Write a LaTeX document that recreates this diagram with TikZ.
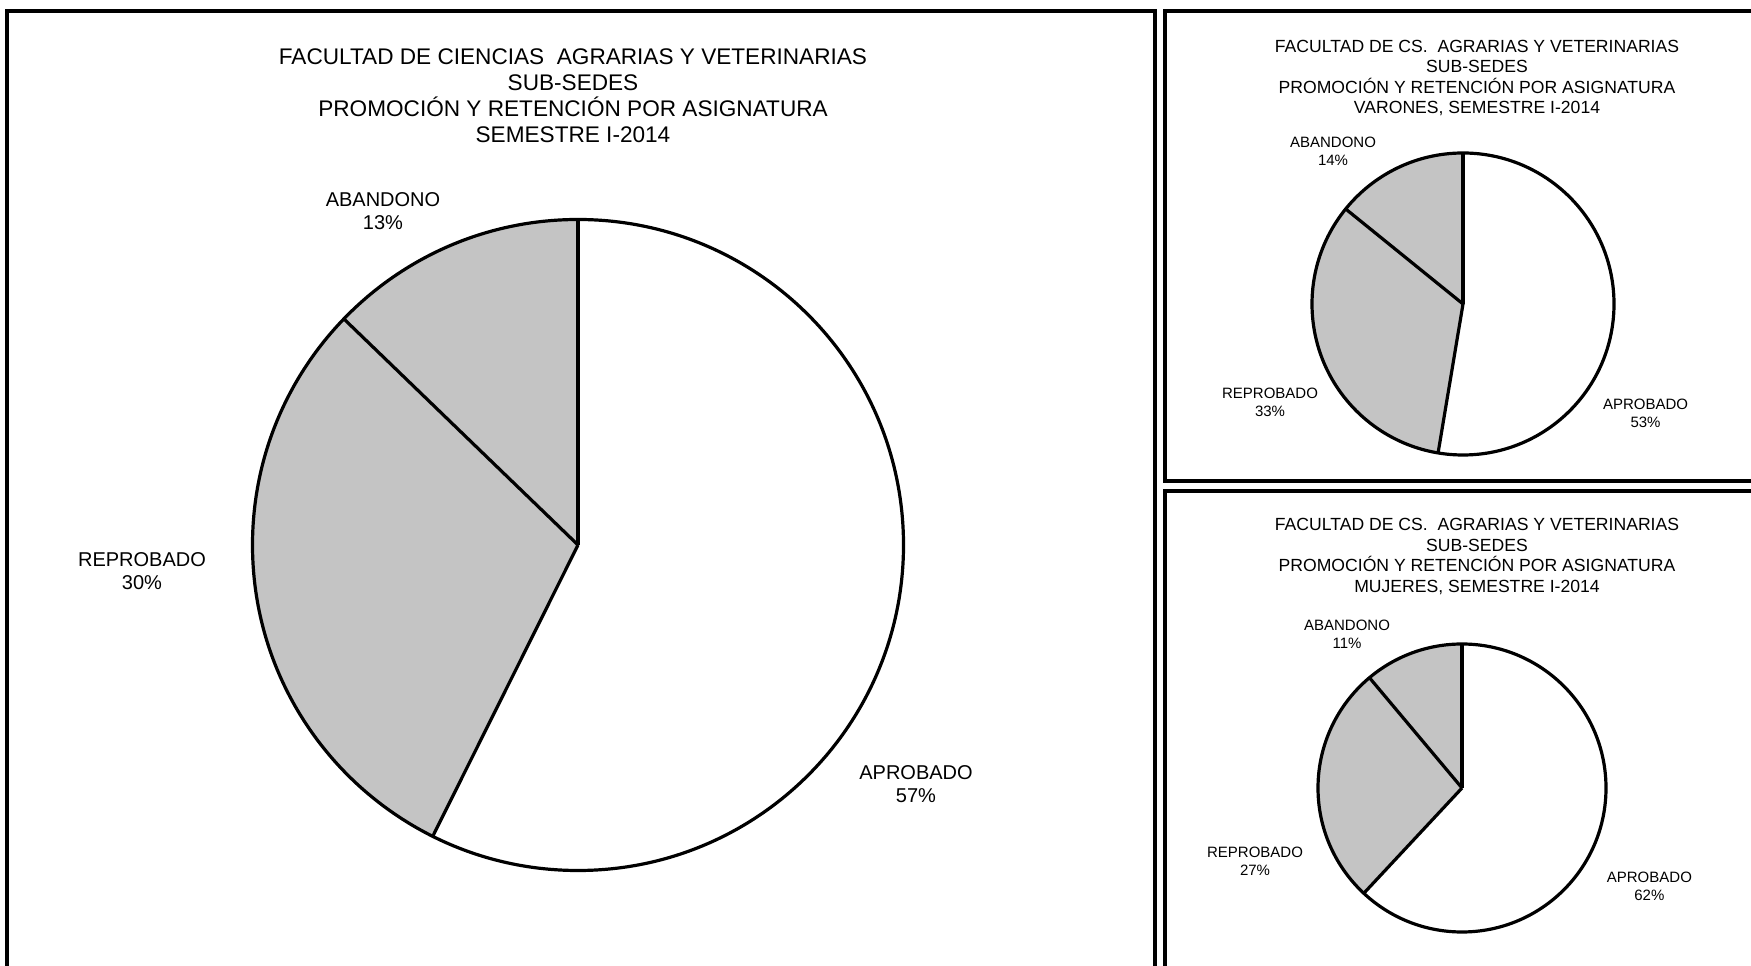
\documentclass[tikz,border=0pt]{standalone}
\usepackage{fontspec}
\setmainfont{Liberation Sans}
\definecolor{slicegray}{RGB}{196,196,196}
\newcommand{\drawpie}[6]{%
  \coordinate (#1) at (#2,#3);
  \fill[white] (#1) circle[radius=#4];
  \fill[slicegray] (#1) -- +(#5:#4) arc[start angle=#5, end angle=-270, radius=#4] -- cycle;
  \draw[pieline] (#1) circle[radius=#4];
  \draw[pieline] (#1) -- +(90:#4);
  \draw[pieline] (#1) -- +(#5:#4);
  \draw[pieline] (#1) -- +(#6:#4);
}
\begin{document}
\begin{tikzpicture}[x=1pt,y=1pt,
  frame/.style={line width=3.3pt},
  pieline/.style={line width=3.2pt, line join=round},
  bigtitle/.style={align=center, inner sep=0pt, font=\fontsize{22.6}{26}\selectfont},
  biglabel/.style={align=center, inner sep=0pt, font=\fontsize{20}{23}\selectfont},
  smalltitle/.style={align=center, inner sep=0pt, font=\fontsize{17.6}{20.5}\selectfont},
  smalllabel/.style={align=center, inner sep=0pt, font=\fontsize{15}{18}\selectfont}]
\useasboundingbox (0,0) rectangle (1751,966);
\clip (0,0) rectangle (1751,966);
\fill[white] (0,0) rectangle (1751,966);
% frames
\draw[frame] (7,-10) -- (7,955) -- (1155,955) -- (1155,-10);
\draw[frame] (1165,485) rectangle (1765,955);
\draw[frame] (1165,-10) rectangle (1765,475);
% main chart
\drawpie{mainc}{578}{421}{325.5}{-116.5}{136}
\node[bigtitle] (maint) at (573,870) {FACULTAD DE CIENCIAS\ \ AGRARIAS Y VETERINARIAS\\SUB-SEDES\\PROMOCIÓN Y RETENCIÓN POR ASIGNATURA\\SEMESTRE I-2014};
\node[biglabel] (mainab) at (383,755) {ABANDONO\\13\%};
\node[biglabel] (mainre) at (142,394.5) {REPROBADO\\30\%};
\node[biglabel] (mainap) at (916,181.5) {APROBADO\\57\%};
% varones
\drawpie{varc}{1463}{662}{151}{-99.5}{141}
\node[smalltitle] (vart) at (1477,888) {FACULTAD DE CS.\ \ AGRARIAS Y VETERINARIAS\\SUB-SEDES\\PROMOCIÓN Y RETENCIÓN POR ASIGNATURA\\VARONES, SEMESTRE I-2014};
\node[smalllabel] (varab) at (1333,815) {ABANDONO\\14\%};
\node[smalllabel] (varre) at (1270,563.7) {REPROBADO\\33\%};
\node[smalllabel] (varap) at (1645.5,553) {APROBADO\\53\%};
% mujeres
\drawpie{mujc}{1462}{178}{144}{-133}{130}
\node[smalltitle] (mujt) at (1477,409.5) {FACULTAD DE CS.\ \ AGRARIAS Y VETERINARIAS\\SUB-SEDES\\PROMOCIÓN Y RETENCIÓN POR ASIGNATURA\\MUJERES, SEMESTRE I-2014};
\node[smalllabel] (mujab) at (1347,332) {ABANDONO\\11\%};
\node[smalllabel] (mujre) at (1255,105) {REPROBADO\\27\%};
\node[smalllabel] (mujap) at (1649.4,79.5) {APROBADO\\62\%};
\end{tikzpicture}
\end{document}
